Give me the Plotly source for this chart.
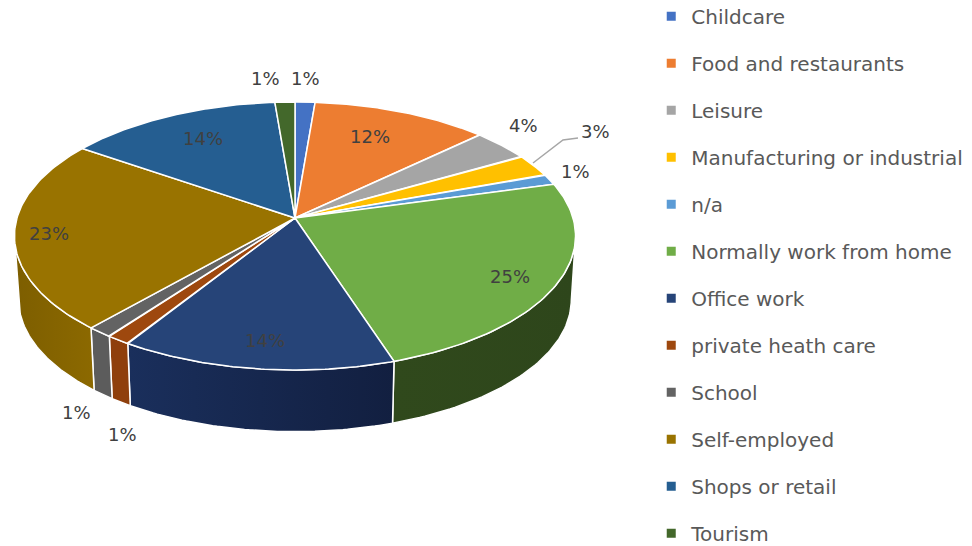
import numpy as np
import plotly.graph_objects as go

categories = ["Childcare", "Food and restaurants", "Leisure", "Manufacturing or industrial", "n/a",
              "Normally work from home", "Office work", "private heath care", "School",
              "Self-employed", "Shops or retail", "Tourism"]
values = [1.3, 11.5, 3.8, 2.7, 1.3, 24.1, 13.9, 1.2, 1.3, 23.0, 14.0, 1.3]
percent_labels = ["1%", "12%", "4%", "3%", "1%", "25%", "14%", "1%", "1%", "23%", "14%", "1%"]
colors = ["#4472c4", "#ed7d31", "#a5a5a5", "#ffc000", "#5b9bd5", "#70ad47",
          "#264478", "#9e480e", "#636363", "#997300", "#255e91", "#43682b"]
# left / right colours of the visible side walls, by category index
side_colors = {5: ("#30491c", "#2e461b"), 6: ("#1a2f5c", "#121f40"), 7: ("#8f3f0c", "#8f3f0c"),
               8: ("#5c5c5c", "#5c5c5c"), 9: ("#7d5e00", "#8c6900")}

# Pixel layout of the drawing
CX, CY, RX, RY, K = 295, 218, 278, 131.6, 0.134
DEPTH, BOTTOM_SCALE = 64, 0.985
EXT_R, EXT_L = 98.0, 262.0
LABEL_POS = [(305, 78), (370, 136), (523, 125), (595, 131), (575, 171), (510, 276),
             (265, 340), (122, 434), (76, 412), (49, 233), (203, 138), (265, 78)]
FONT = "DejaVu Sans"
TEXT = "#404040"


def rim(theta_deg, scale=1.0, dy=0.0):
    t = np.radians(theta_deg)
    u, v = np.sin(t), np.cos(t)
    f = 1 + K * v
    return CX + scale * RX * u / f, CY + dy - scale * RY * v / f


total = sum(values)
edges = np.concatenate([[0], np.cumsum(values)]) / total * 360

fig = go.Figure()

# legend entries
for name, col in zip(categories, colors):
    fig.add_trace(go.Scatter(x=[None], y=[None], mode="markers", name=name, legendgroup=name,
                             marker=dict(symbol="square", size=9, color=col)))

# side walls
for i, (c_left, c_right) in side_colors.items():
    a = max(edges[i], EXT_R)
    b = min(edges[i + 1], EXT_L)
    th = np.linspace(a, b, 60)
    xt, yt = rim(th)
    xb, yb = rim(th[::-1], BOTTOM_SCALE, DEPTH)
    fig.add_trace(go.Scatter(
        x=np.r_[xt, xb, xt[0]], y=np.r_[yt, yb, yt[0]], mode="lines", fill="toself",
        line=dict(color="white", width=1.5), showlegend=False, hoverinfo="skip",
        fillgradient=dict(type="horizontal", colorscale=[[0, c_left], [1, c_right]])))

# top faces
for i, col in enumerate(colors):
    th = np.linspace(edges[i], edges[i + 1], 80)
    xt, yt = rim(th)
    fig.add_trace(go.Scatter(
        x=np.r_[CX, xt, CX], y=np.r_[CY, yt, CY], mode="lines", fill="toself", fillcolor=col,
        line=dict(color="white", width=1.5), showlegend=False, hoverinfo="skip"))

annotations = []
for lab, (lx, ly) in zip(percent_labels, LABEL_POS):
    annotations.append(dict(x=lx, y=ly, xref="x", yref="y", showarrow=False, text=lab,
                            font=dict(family=FONT, size=18, color=TEXT)))

fig.update_layout(
    width=972, height=546, margin=dict(l=0, r=0, t=0, b=0, autoexpand=False),
    paper_bgcolor="white", plot_bgcolor="white",
    xaxis=dict(range=[0, 972], visible=False, fixedrange=True),
    yaxis=dict(range=[546, 0], visible=False, fixedrange=True),
    annotations=annotations,
    shapes=[dict(type="path", path="M 533 163 L 563 140 L 578 138", xref="x", yref="y",
                 line=dict(color="#a6a6a6", width=1.5))],
    legend=dict(x=0.67, y=1.006, xanchor="left", yanchor="top", tracegroupgap=18,
                maxheight=620, bgcolor="rgba(0,0,0,0)", itemwidth=30,
                font=dict(family=FONT, size=20, color="#595959")),
)
fig.write_html("out.html", config=dict(displayModeBar=False),
               post_script="document.body.style.margin='0';document.documentElement.style.overflow='hidden';")
